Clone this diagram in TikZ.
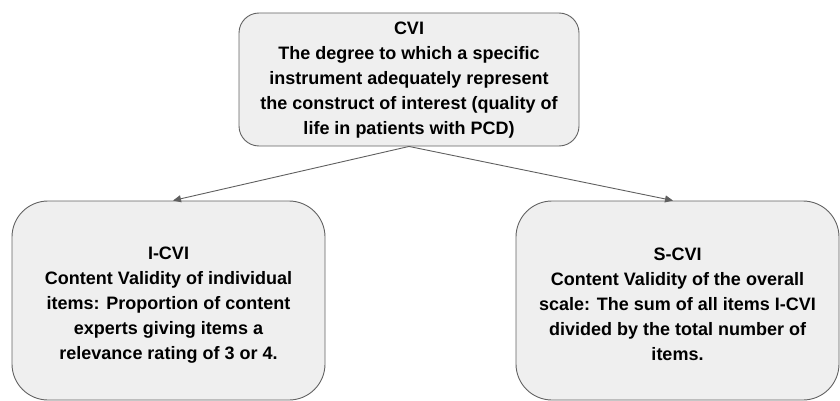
\documentclass[tikz,border=0pt]{standalone}
\usepackage{fontspec}
\setmainfont{Liberation Sans}
\usetikzlibrary{arrows.meta}
\definecolor{boxfill}{HTML}{EFEFEF}
\definecolor{boxline}{HTML}{626262}
\definecolor{arrowcol}{HTML}{5F5F5F}
\tikzset{
  infobox/.style={draw=boxline, fill=boxfill, line width=0.9pt, rectangle,
    inner sep=0pt},
  infotext/.style={inner sep=0pt, align=center, text=black,
    font=\fontsize{18}{25}\selectfont\bfseries},
  linkarrow/.style={draw=arrowcol, line width=0.9pt,
    -{Triangle[length=8pt,width=7pt]}}
}
\begin{document}
\begin{tikzpicture}[x=1pt,y=-1pt]
\useasboundingbox (0,0) rectangle (840,401);
\node[infobox, rounded corners=20pt, minimum width=340pt, minimum height=133pt] (cvi) at (409,79.5) {};
\node[infobox, rounded corners=36pt, minimum width=313pt, minimum height=199pt] (icvi) at (168.5,300.5) {};
\node[infobox, rounded corners=36pt, minimum width=323pt, minimum height=199pt] (scvi) at (677.5,300.5) {};
\node[infotext] (cvitxt) at ([yshift=-1pt]cvi.center)
  {CVI\\The degree to which a specific\\instrument adequately represent\\the construct of interest (quality of\\life in patients with PCD)};
\node[infotext] (icvitxt) at ([yshift=-4.5pt]icvi.center)
  {I-CVI\\Content Validity of individual\\items: Proportion of content\\experts giving items a\\relevance rating of 3 or 4.};
\node[infotext] (scvitxt) at ([yshift=-3.5pt]scvi.center)
  {S-CVI\\Content Validity of the overall\\scale: The sum of all items I-CVI\\divided by the total number of\\items.};
\draw[linkarrow] (cvi.south) -- ([xshift=4.5pt]icvi.north);
\draw[linkarrow] (cvi.south) -- ([xshift=-4.5pt]scvi.north);
\end{tikzpicture}
\end{document}
